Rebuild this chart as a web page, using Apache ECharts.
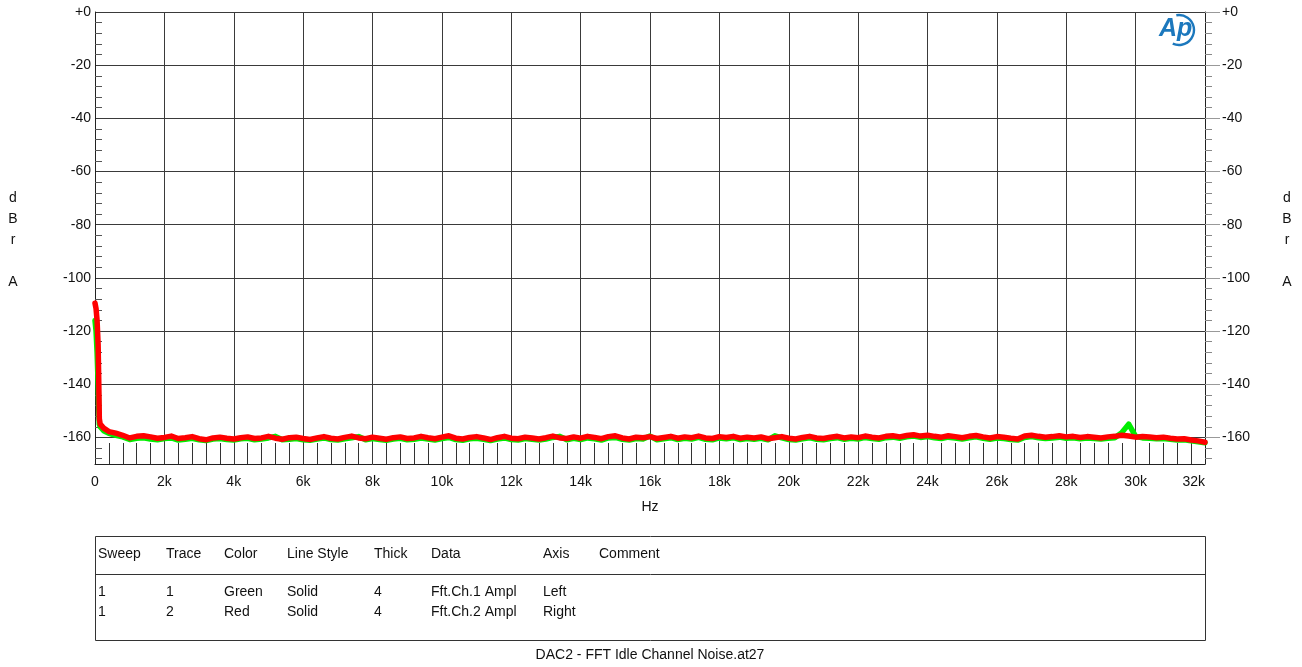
<!DOCTYPE html>
<html>
<head>
<meta charset="utf-8">
<title>DAC2 - FFT Idle Channel Noise</title>
<script src="https://cdn.jsdelivr.net/npm/echarts@6/dist/echarts.min.js"></script>
<style>
  html, body { margin: 0; padding: 0; background: #fff; }
  #chart { width: 1302px; height: 667px; }
</style>
</head>
<body>
<div id="chart"></div>
<script>
// ---- Axis ticks ----
const yMajorTicks = [0, -20, -40, -60, -80, -100, -120, -140, -160];
const yMinorTicks = [-168, -164, -156, -152, -148, -144, -136, -132, -128, -124,
  -116, -112, -108, -104, -96, -92, -88, -84, -76, -72, -68, -64,
  -56, -52, -48, -44, -36, -32, -28, -24, -16, -12, -8, -4];
const xMin = 0, xMax = 32000, xStep = 2000;
const yMin = -170, yMax = 0;

// ---- Low-frequency part of each trace: [Hz, dBrA] ----
const ch1Low = [[0, -116], [30, -120], [60, -128], [90, -140], [110, -150], [125, -155],
  [150, -156], [250, -157.5], [400, -158.5], [600, -159.2], [800, -159.8]];
const ch2Low = [[0, -109.5], [30, -111.5], [60, -116], [90, -125], [110, -140], [125, -153],
  [150, -155], [250, -156.5], [400, -157.8], [600, -158.4], [800, -159.2]];

// ---- FFT bins from 1 kHz to 32 kHz, 200 Hz apart ----
const binStart = 1000, binStep = 200;
const ch1Noise = [
  -160.8,-160.3,-160.1,-160.6,-160.9,-160.4,-160.2,-161.0,-160.7,-160.3,
  -160.9,-161.2,-160.6,-160.4,-160.8,-161.0,-160.5,-160.3,-160.9,-160.6,
  -160.2,-159.6,-160.9,-160.7,-160.4,-160.9,-161.1,-160.6,-160.2,-160.8,
  -161.0,-160.5,-160.1,-159.7,-160.9,-160.4,-160.8,-161.1,-160.6,-160.3,
  -160.9,-160.7,-160.2,-160.6,-161.0,-160.4,-160.0,-160.8,-161.1,-160.5,
  -160.3,-160.7,-161.2,-160.6,-160.2,-160.8,-161.0,-160.4,-160.7,-161.0,
  -160.6,-160.0,-159.6,-160.9,-160.3,-160.8,-160.2,-160.5,-161.0,-160.2,
  -160.0,-160.7,-161.0,-160.4,-160.6,-159.5,-160.9,-160.5,-160.1,-160.8,
  -160.3,-160.6,-160.0,-160.7,-160.9,-160.2,-160.5,-160.1,-160.8,-160.4,
  -160.7,-160.3,-160.9,-159.4,-160.2,-160.8,-161.0,-160.5,-160.1,-160.7,
  -160.9,-160.4,-160.1,-160.7,-160.3,-160.6,-160.0,-160.4,-160.7,-160.1,
  -159.9,-160.3,-159.8,-159.5,-160.0,-159.7,-160.1,-160.4,-159.9,-160.2,
  -160.6,-160.1,-159.8,-160.3,-160.7,-160.2,-160.4,-160.8,-161.0,-160.0,
  -159.7,-160.1,-160.4,-160.2,-159.9,-160.3,-160.1,-160.5,-160.2,-160.4,
  -160.6,-160.3,-160.1,-158.2,-155.0,-159.6,-160.2,-160.3,-160.5,-160.4,
  -160.7,-161.0,-160.9,-161.3,-161.6,-162.0
];
const ch2Noise = [
  -160.2,-159.6,-159.4,-159.8,-160.3,-160.0,-159.5,-160.4,-160.1,-159.7,
  -160.5,-160.9,-160.2,-159.9,-160.3,-160.6,-160.1,-159.8,-160.4,-160.2,
  -159.6,-160.3,-160.7,-160.1,-159.9,-160.4,-160.8,-160.2,-159.7,-160.3,
  -160.6,-160.0,-159.5,-160.2,-160.5,-159.9,-160.3,-160.7,-160.1,-159.8,
  -160.4,-160.2,-159.6,-160.1,-160.5,-159.9,-159.4,-160.3,-160.6,-160.0,
  -159.7,-160.2,-160.8,-160.1,-159.6,-160.3,-160.5,-159.9,-160.2,-160.6,
  -160.1,-159.5,-160.2,-160.4,-159.8,-160.3,-159.6,-160.0,-160.5,-159.7,
  -159.4,-160.2,-160.6,-159.9,-160.1,-159.7,-160.4,-160.0,-159.6,-160.3,
  -159.8,-160.1,-159.5,-160.2,-160.4,-159.7,-160.0,-159.6,-160.3,-159.9,
  -160.2,-159.8,-160.5,-160.1,-159.7,-160.3,-160.6,-160.0,-159.6,-160.2,
  -160.4,-159.9,-159.6,-160.2,-159.8,-160.1,-159.5,-159.9,-160.2,-159.6,
  -159.4,-159.8,-159.3,-159.0,-159.5,-159.2,-159.6,-159.9,-159.4,-159.7,
  -160.1,-159.6,-159.3,-159.8,-160.2,-159.7,-159.9,-160.3,-160.6,-159.5,
  -159.2,-159.6,-159.9,-159.7,-159.4,-159.8,-159.6,-160.0,-159.7,-159.9,
  -160.2,-159.8,-159.6,-159.2,-159.5,-159.9,-159.7,-159.8,-160.1,-159.9,
  -160.3,-160.6,-160.5,-161.0,-161.3,-161.8
];

// ---- Legend table rows ----
const tableHeader = ['Sweep', 'Trace', 'Color', 'Line Style', 'Thick', 'Data', 'Axis', 'Comment'];
const tableRows = [
  ['1', '1', 'Green', 'Solid', '4', 'Fft.Ch.1 Ampl', 'Left', ''],
  ['1', '2', 'Red', 'Solid', '4', 'Fft.Ch.2 Ampl', 'Right', '']
];
const footerTitle = 'DAC2 - FFT Idle Channel Noise.at27';

// Join low-frequency points with the evenly spaced bins
function buildTrace(low, noise) {
  const pts = low.slice();
  noise.forEach((v, i) => pts.push([binStart + i * binStep, v]));
  return pts;
}

const FONT = '"Liberation Sans", Arial, sans-serif';
const gridLeft = 95, gridRight = 1205, gridTop = 12, gridBottom = 464;
const gridColor = '#3a3a3a';

const chart = echarts.init(document.getElementById('chart'), null, { renderer: 'canvas' });

const yLabelFmt = v => (v === 0 ? '+0' : String(v));

// Legend table graphics
const colX = [98, 166, 224, 287, 374, 431, 543, 599];
const tableEls = [
  { type: 'rect', shape: { x: 95.5, y: 536.5, width: 1110, height: 104 },
    style: { fill: 'none', stroke: '#333', lineWidth: 1 } },
  { type: 'line', shape: { x1: 95.5, y1: 574.5, x2: 1205.5, y2: 574.5 },
    style: { stroke: '#333', lineWidth: 1 } }
];
tableHeader.forEach((t, i) => tableEls.push({
  type: 'text', x: colX[i], y: 554,
  style: { text: t, font: '14px ' + FONT, fill: '#111', verticalAlign: 'middle' }
}));
tableRows.forEach((row, r) => row.forEach((t, i) => tableEls.push({
  type: 'text', x: colX[i], y: 592 + r * 20,
  style: { text: t, font: '14px ' + FONT, fill: '#111', verticalAlign: 'middle' }
})));

const option = {
  animation: false,
  backgroundColor: '#fff',
  grid: { left: gridLeft, right: 1302 - gridRight, top: gridTop, bottom: 667 - gridBottom, containLabel: false },
  xAxis: {
    type: 'value', min: xMin, max: xMax, interval: xStep, position: 'bottom',
    name: 'Hz', nameLocation: 'middle', nameGap: 36,
    nameTextStyle: { fontFamily: FONT, fontSize: 14, color: '#111' },
    axisLine: { show: true, onZero: false, lineStyle: { color: '#222', width: 1 } },
    axisTick: { show: false, inside: true },
    minorTick: { show: true, splitNumber: 5, length: 21, lineStyle: { color: '#333', width: 1 } },
    axisLabel: {
      fontFamily: FONT, fontSize: 14, color: '#111', margin: 11,
      alignMaxLabel: 'right',
      formatter: v => (v === 0 ? '0' : (v / 1000) + 'k')
    },
    splitLine: { show: true, lineStyle: { color: gridColor, width: 1 } }
  },
  yAxis: [
    { // left main axis (trace 1)
      type: 'value', position: 'left', min: yMin, max: yMax,
      axisLine: { show: true, onZero: false, lineStyle: { color: '#222', width: 1 } },
      axisTick: { show: false, customValues: yMajorTicks },
      axisLabel: { customValues: yMajorTicks, formatter: yLabelFmt, fontFamily: FONT, fontSize: 14, color: '#111', margin: 4 },
      splitLine: { show: true, lineStyle: { color: gridColor, width: 1 } }
    },
    { // left minor ticks, pointing into the plot
      type: 'value', position: 'left', min: yMin, max: yMax,
      axisLine: { show: false, onZero: false },
      axisTick: { show: true, inside: true, length: 7, customValues: yMinorTicks, lineStyle: { color: '#555' } },
      axisLabel: { show: false },
      splitLine: { show: false }
    },
    { // right main axis (trace 2)
      type: 'value', position: 'right', min: yMin, max: yMax,
      axisLine: { show: true, onZero: false, lineStyle: { color: '#222', width: 1 } },
      axisTick: { show: true, length: 15, customValues: yMajorTicks, lineStyle: { color: '#999' } },
      axisLabel: { customValues: yMajorTicks, formatter: yLabelFmt, fontFamily: FONT, fontSize: 14, color: '#111', margin: 17 },
      splitLine: { show: false }
    },
    { // right minor ticks, pointing outwards
      type: 'value', position: 'right', min: yMin, max: yMax,
      axisLine: { show: false, onZero: false },
      axisTick: { show: true, inside: false, length: 7, customValues: yMinorTicks, lineStyle: { color: '#888' } },
      axisLabel: { show: false },
      splitLine: { show: false }
    }
  ],
  series: [
    {
      name: 'Fft.Ch.1 Ampl', type: 'line', yAxisIndex: 0,
      data: buildTrace(ch1Low, ch1Noise),
      showSymbol: false, smooth: false, z: 3,
      lineStyle: { color: '#00ee00', width: 5.5, join: 'round', cap: 'round' }
    },
    {
      name: 'Fft.Ch.2 Ampl', type: 'line', yAxisIndex: 2,
      data: buildTrace(ch2Low, ch2Noise),
      showSymbol: false, smooth: false, z: 4,
      lineStyle: { color: '#ff0000', width: 5.5, join: 'round', cap: 'round' }
    }
  ],
  graphic: [
    // vertical axis captions
    { type: 'text', x: 13, y: 188,
      style: { text: 'd\nB\nr\n\nA', font: '14px ' + FONT, fill: '#111', align: 'center', lineHeight: 21 } },
    { type: 'text', x: 1287, y: 188,
      style: { text: 'd\nB\nr\n\nA', font: '14px ' + FONT, fill: '#111', align: 'center', lineHeight: 21 } },
    // Ap logo
    { type: 'arc', shape: { cx: 1179, cy: 30, r: 15, startAngle: -1.75, endAngle: 2.0, clockwise: true },
      style: { stroke: '#1c78bd', lineWidth: 2.4, fill: 'none' }, z: 10 },
    { type: 'text', x: 1159, y: 17,
      style: { text: 'Ap', font: 'italic bold 25px ' + FONT, fill: '#1c78bd' }, z: 11 },
    // footer title
    { type: 'text', x: 650, y: 655,
      style: { text: footerTitle, font: '14px ' + FONT, fill: '#111', align: 'center', verticalAlign: 'middle' } }
  ].concat(tableEls)
};

chart.setOption(option);
</script>
</body>
</html>
